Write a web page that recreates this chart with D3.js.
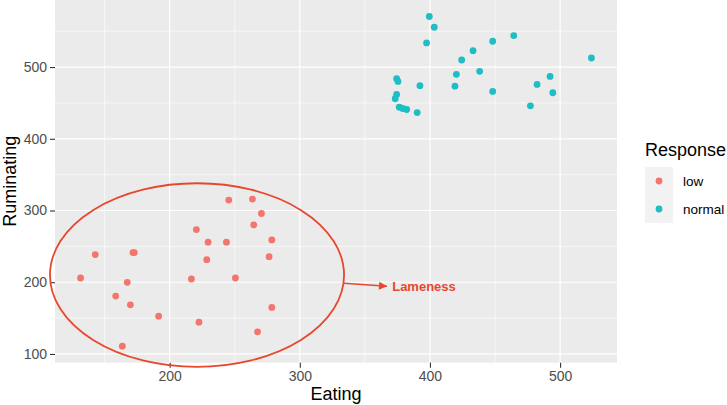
<!DOCTYPE html>
<html>
<head>
<meta charset="utf-8">
<script src="https://cdn.jsdelivr.net/npm/d3@7"></script>
<style>
  body { margin: 0; background: #fff; }
  text { font-family: "Liberation Sans", Arial, Helvetica, sans-serif; }
</style>
</head>
<body>
<svg id="chart" width="727" height="405"></svg>
<script>
// values
const eatingLow = [131.5, 142.8, 171.8, 172.8, 167.4, 158.5, 169.8, 163.6, 191.5, 216.7, 220.5, 229.5,
  228.5, 222.5, 245.4, 243.6, 250.5, 263.6, 270.5, 264.6, 278.5, 276.4, 278.5, 267.5];
const ruminatingLow = [205.9, 238.5, 241.3, 241.3, 199.9, 180.7, 168.5, 110.8, 152.7, 204.5, 273.4, 255.8,
  231.5, 144.3, 314.5, 255.8, 205.9, 315.9, 295.8, 280.0, 259.0, 235.7, 164.9, 130.8];
const eatingNormal = [399.5, 403.3, 397.4, 448.2, 464.4, 433.1, 424.4, 524.1, 420.3, 438.2, 419.2, 448.2,
  482.3, 492.3, 494.4, 477.2, 392.3, 374.4, 375.4, 374.4, 373.3, 376.4, 379.0, 382.1, 390.2];
const ruminatingNormal = [570.5, 555.5, 533.6, 536.0, 543.9, 522.9, 509.8, 512.6, 489.8, 494.0, 473.4, 466.0,
  475.8, 487.0, 464.2, 446.0, 474.0, 483.8, 480.0, 461.8, 455.8, 444.0, 442.2, 440.8, 436.6];

const responses = ['low', 'normal'];
const responseColors = ['#F3756C', '#1FBDC4'];

const xTicks = [200, 300, 400, 500];
const yTicks = [100, 200, 300, 400, 500];

// annotation: ellipse round the low group, arrow and label (data units)
const ellipseCenter = [221, 210];
const ellipseRadius = [113, 128];
const arrowFrom = [334, 198.5];
const arrowTo = [367, 194.3];
const labelAt = [371, 194.3];

const points = [];
eatingLow.forEach((e, i) => points.push({ eating: e, ruminating: ruminatingLow[i], response: 'low' }));
eatingNormal.forEach((e, i) => points.push({ eating: e, ruminating: ruminatingNormal[i], response: 'normal' }));

const svg = d3.select('#chart');
const pLeft = 55, pRight = 617, pTop = 0, pBottom = 362.7;

// ggplot style 5% expansion
function expand(ext) {
  let d = (ext[1] - ext[0]) * 0.05;
  return [ext[0] - d, ext[1] + d];
}

let xScale = d3.scaleLinear()
  .domain(expand(d3.extent(points, (d) => d.eating)))
  .range([pLeft, pRight]);

let yScale = d3.scaleLinear()
  .domain(expand(d3.extent(points, (d) => d.ruminating)))
  .range([pBottom, pTop]);

let colorScale = d3.scaleOrdinal()
  .domain(responses)
  .range(responseColors);

// panel
svg.append('rect')
  .attr('x', pLeft).attr('y', pTop)
  .attr('width', pRight - pLeft).attr('height', pBottom - pTop)
  .attr('fill', '#EBEBEB');

// minor grid
let xMinor = d3.range(150, 600, 100).filter((v) => v > xScale.domain()[0] && v < xScale.domain()[1]);
let yMinor = d3.range(50, 650, 100).filter((v) => v > yScale.domain()[0] && v < yScale.domain()[1]);

svg.append('g').selectAll('line')
  .data(xMinor).enter().append('line')
  .attr('x1', (d) => xScale(d)).attr('x2', (d) => xScale(d))
  .attr('y1', pTop).attr('y2', pBottom)
  .attr('stroke', '#fff').attr('stroke-width', 0.6);

svg.append('g').selectAll('line')
  .data(yMinor).enter().append('line')
  .attr('y1', (d) => yScale(d)).attr('y2', (d) => yScale(d))
  .attr('x1', pLeft).attr('x2', pRight)
  .attr('stroke', '#fff').attr('stroke-width', 0.6);

// major grid
svg.append('g').selectAll('line')
  .data(xTicks).enter().append('line')
  .attr('x1', (d) => xScale(d)).attr('x2', (d) => xScale(d))
  .attr('y1', pTop).attr('y2', pBottom)
  .attr('stroke', '#fff').attr('stroke-width', 1.2);

svg.append('g').selectAll('line')
  .data(yTicks).enter().append('line')
  .attr('y1', (d) => yScale(d)).attr('y2', (d) => yScale(d))
  .attr('x1', pLeft).attr('x2', pRight)
  .attr('stroke', '#fff').attr('stroke-width', 1.2);

// AXES
let xAxis = svg.append('g')
  .attr('transform', `translate(0, ${pBottom})`)
  .call(d3.axisBottom(xScale).tickValues(xTicks).tickSize(5).tickPadding(3));

let yAxis = svg.append('g')
  .attr('transform', `translate(${pLeft}, 0)`)
  .call(d3.axisLeft(yScale).tickValues(yTicks).tickSize(5).tickPadding(3));

[xAxis, yAxis].forEach((ax) => {
  ax.select('.domain').remove();
  ax.selectAll('line').attr('stroke', '#333').attr('stroke-width', 1.1);
  ax.selectAll('text')
    .attr('fill', '#4D4D4D')
    .style('font-size', '14px')
    .style('font-family', '"Liberation Sans", Arial, sans-serif');
});

svg.append('text')
  .attr('x', (pLeft + pRight) / 2).attr('y', 400)
  .attr('text-anchor', 'middle')
  .style('font-size', '18px')
  .text('Eating');

svg.append('text')
  .attr('transform', `translate(15.5, ${(pTop + pBottom) / 2}) rotate(-90)`)
  .attr('text-anchor', 'middle')
  .style('font-size', '18px')
  .text('Ruminating');

// points
svg.append('g').selectAll('circle')
  .data(points).enter().append('circle')
  .attr('cx', (d) => xScale(d.eating))
  .attr('cy', (d) => yScale(d.ruminating))
  .attr('r', 3.4)
  .attr('fill', (d) => colorScale(d.response));

// annotation
const red = '#E8472E';
let ecx = xScale(ellipseCenter[0]), ecy = yScale(ellipseCenter[1]);
svg.append('ellipse')
  .attr('cx', ecx).attr('cy', ecy)
  .attr('rx', xScale(ellipseCenter[0] + ellipseRadius[0]) - ecx)
  .attr('ry', ecy - yScale(ellipseCenter[1] + ellipseRadius[1]))
  .attr('fill', 'none')
  .attr('stroke', red)
  .attr('stroke-width', 1.8);

svg.append('defs').append('marker')
  .attr('id', 'head')
  .attr('viewBox', '0 0 10 10')
  .attr('refX', 10).attr('refY', 5)
  .attr('markerWidth', 9).attr('markerHeight', 8)
  .attr('markerUnits', 'userSpaceOnUse')
  .attr('orient', 'auto')
  .append('path')
  .attr('d', 'M0,0 L10,5 L0,10 Z')
  .attr('fill', red);

svg.append('line')
  .attr('x1', xScale(arrowFrom[0])).attr('y1', yScale(arrowFrom[1]))
  .attr('x2', xScale(arrowTo[0])).attr('y2', yScale(arrowTo[1]))
  .attr('stroke', red)
  .attr('stroke-width', 1.6)
  .attr('marker-end', 'url(#head)');

svg.append('text')
  .attr('x', xScale(labelAt[0])).attr('y', yScale(labelAt[1]))
  .attr('dy', '0.35em')
  .attr('fill', red)
  .style('font-size', '13px')
  .style('font-weight', 'bold')
  .text('Lameness');

// legend
let legend = svg.append('g').attr('transform', 'translate(645, 0)');
legend.append('text')
  .attr('x', 0).attr('y', 155.5)
  .style('font-size', '18px')
  .text('Response');

let keys = legend.selectAll('g.key')
  .data(responses).enter().append('g')
  .attr('class', 'key')
  .attr('transform', (d, i) => `translate(0, ${167 + i * 28})`);

keys.append('rect')
  .attr('width', 28).attr('height', 28)
  .attr('fill', '#F2F2F2');

keys.append('circle')
  .attr('cx', 14).attr('cy', 14).attr('r', 3.4)
  .attr('fill', (d) => colorScale(d));

keys.append('text')
  .attr('x', 38).attr('y', 14)
  .attr('dy', '0.35em')
  .style('font-size', '13.5px')
  .attr('fill', '#000')
  .text((d) => d);
</script>
</body>
</html>
